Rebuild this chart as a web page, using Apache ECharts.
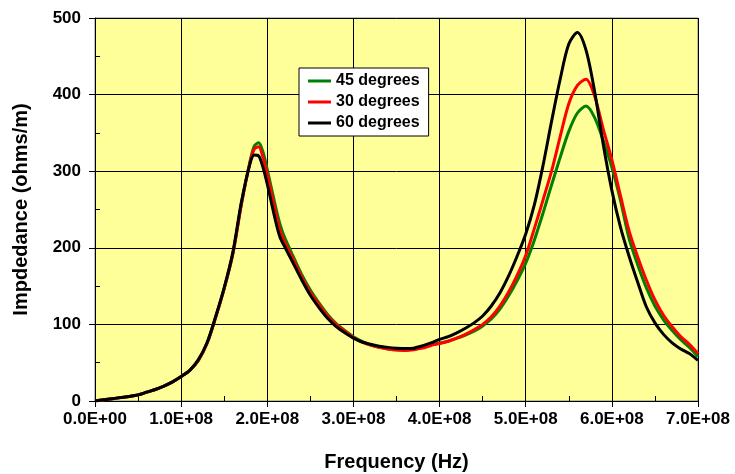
<!DOCTYPE html>
<html>
<head>
<meta charset="utf-8">
<script src="https://cdn.jsdelivr.net/npm/echarts@6/dist/echarts.min.js"></script>
<style>
  html, body { margin: 0; padding: 0; background: #fff; }
  #chart { width: 735px; height: 474px; }
</style>
</head>
<body>
<div id="chart"></div>
<script>
// frequency in units of 1E8 Hz
var freq = [0, 0.1, 0.2, 0.3, 0.4, 0.5, 0.6, 0.7, 0.8, 0.9,
    1.0, 1.1, 1.2, 1.3, 1.4, 1.5, 1.6, 1.7, 1.8, 1.85, 1.9, 1.95,
    2.0, 2.1, 2.15, 2.2, 2.3, 2.4, 2.5, 2.6, 2.7, 2.8, 2.9,
    3.0, 3.1, 3.2, 3.3, 3.4, 3.5, 3.6, 3.7, 3.8, 3.9,
    4.0, 4.1, 4.2, 4.3, 4.4, 4.5, 4.6, 4.7, 4.8, 4.9,
    5.0, 5.1, 5.2, 5.3, 5.4, 5.5, 5.6, 5.7, 5.8, 5.9,
    6.0, 6.1, 6.2, 6.3, 6.4, 6.5, 6.6, 6.7, 6.8, 6.9, 7.0];

var deg45 = [0, 1.5, 3, 4.5, 6, 8, 11.5, 15, 19.5, 25,
    32, 40, 53, 75, 109, 147, 192, 258, 313, 333, 337, 325,
    302, 252, 230, 214, 189, 165, 145, 128, 113, 101, 92,
    84, 78, 73, 70, 68, 67, 66.5, 67.5, 70, 73.5,
    75.5, 78, 82, 86, 91, 98, 107, 120, 137, 157,
    180, 210, 245, 282, 318, 352, 376, 385, 370, 340,
    305, 262, 212, 178, 148, 124, 106, 92, 80, 70, 58];

var deg30 = [0, 1.5, 3, 4.5, 6, 8, 11.5, 15, 19.5, 25,
    32, 40, 53, 75, 109, 147, 192, 257, 312, 329, 332, 318,
    296, 245, 222, 208, 185, 162, 142, 126, 111, 100, 91,
    83, 77, 73, 70, 68, 66.5, 66, 67, 69, 72.5,
    75, 78, 82, 87, 93, 100, 110, 124, 142, 164,
    190, 225, 262, 300, 345, 388, 412, 420, 398, 355,
    315, 268, 222, 188, 158, 132, 112, 97, 84, 74, 62];

var deg60 = [0, 1.5, 3, 4.5, 6, 8, 11.5, 15, 19.5, 25,
    32, 40, 54, 76, 110, 148, 194, 260, 310, 321, 320, 305,
    283, 233, 213, 202, 180, 158, 138, 122, 108, 97, 89,
    82, 77, 74, 71.5, 70, 69, 68.5, 69, 72, 76,
    80.5, 84, 89, 95, 102, 111, 124, 141, 163, 189,
    218, 256, 307, 365, 420, 466, 481, 458, 404, 335,
    275, 227, 189, 155, 123, 102, 87, 76, 68, 62, 53];

var seriesNames = ['45 degrees', '30 degrees', '60 degrees'];
var seriesColors = ['#008000', '#ff0000', '#000000'];
var seriesValues = [deg45, deg30, deg60];

function pairs(vals) {
    return freq.map(function (f, i) { return [f * 1e8, vals[i]]; });
}

var font = 'Arial, "Liberation Sans", sans-serif';
var chart = echarts.init(document.getElementById('chart'));

var option = {
    animation: false,
    textStyle: { fontFamily: font },
    grid: {
        left: 95, right: 37, top: 18, bottom: 73,
        outerBoundsMode: 'none',
        containLabel: false,
        show: true,
        backgroundColor: '#ffff99',
        borderColor: '#808080',
        borderWidth: 1
    },
    legend: {
        orient: 'vertical',
        left: 299, top: 68,
        data: seriesNames,
        icon: 'rect',
        itemWidth: 23, itemHeight: 3,
        itemGap: 5,
        padding: [5, 9, 5, 9],
        backgroundColor: '#fff',
        borderColor: '#000',
        borderWidth: 1,
        borderRadius: 0,
        textStyle: { fontFamily: font, fontWeight: 'bold', fontSize: 16, color: '#000' }
    },
    xAxis: {
        type: 'value',
        min: 0, max: 7e8, interval: 1e8,
        name: 'Frequency (Hz)',
        nameLocation: 'middle',
        nameGap: 51,
        nameTextStyle: { fontFamily: font, fontWeight: 'bold', fontSize: 20, color: '#000' },
        axisLine: { show: true, lineStyle: { color: '#000', width: 1 } },
        axisTick: { show: true, length: 6, lineStyle: { color: '#000' } },
        minorTick: { show: true, splitNumber: 2, length: -5, lineStyle: { color: '#000' } },
        splitLine: { show: true, lineStyle: { color: '#000', width: 1 } },
        axisLabel: {
            margin: 10,
            fontFamily: font, fontWeight: 'bold', fontSize: 17, color: '#000',
            formatter: function (v) {
                var m = v / 1e8;
                return m.toFixed(1) + (v === 0 ? 'E+00' : 'E+08');
            }
        }
    },
    yAxis: {
        type: 'value',
        min: 0, max: 500, interval: 100,
        name: 'Impdedance (ohms/m)',
        nameLocation: 'middle',
        nameGap: 64,
        nameTextStyle: { fontFamily: font, fontWeight: 'bold', fontSize: 20, color: '#000' },
        axisLine: { show: true, lineStyle: { color: '#000', width: 1 } },
        axisTick: { show: true, length: 6, lineStyle: { color: '#000' } },
        minorTick: { show: true, splitNumber: 2, length: -5, lineStyle: { color: '#000' } },
        splitLine: { show: true, lineStyle: { color: '#000', width: 1 } },
        axisLabel: { margin: 14, fontFamily: font, fontWeight: 'bold', fontSize: 17, color: '#000' }
    },
    series: seriesNames.map(function (name, i) {
        return {
            name: name,
            type: 'line',
            data: pairs(seriesValues[i]),
            smooth: 0.3,
            showSymbol: false,
            color: seriesColors[i],
            lineStyle: { color: seriesColors[i], width: 3 }
        };
    })
};

chart.setOption(option);
</script>
</body>
</html>
